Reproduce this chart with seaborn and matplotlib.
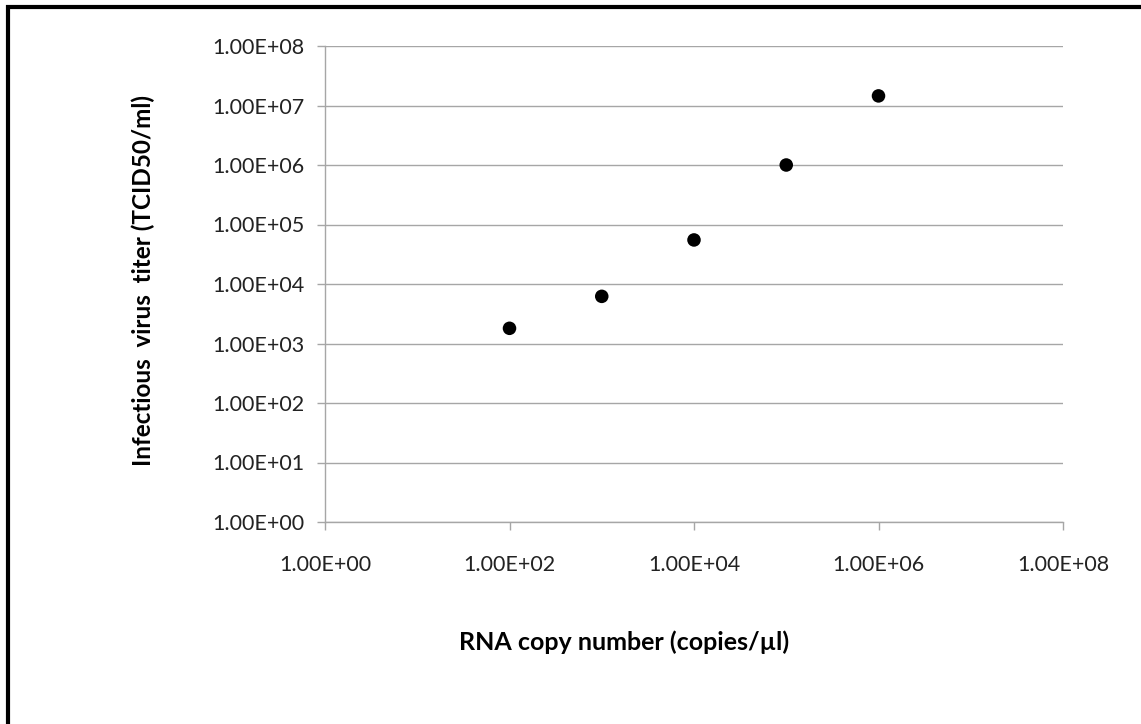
import matplotlib
matplotlib.use("Agg")
import matplotlib.pyplot as plt
import seaborn as sns
import pandas as pd
from matplotlib.lines import Line2D
from matplotlib.ticker import FixedLocator, FixedFormatter, NullLocator

rna_copies = [1e2, 1e3, 1e4, 1e5, 1e6]
virus_titer = [1.8e3, 6.2e3, 5.5e4, 1.0e6, 1.45e7]
x_ticks = [1e0, 1e2, 1e4, 1e6, 1e8]
x_tick_labels = ["1.00E+00", "1.00E+02", "1.00E+04", "1.00E+06", "1.00E+08"]
y_ticks = [1e0, 1e1, 1e2, 1e3, 1e4, 1e5, 1e6, 1e7, 1e8]
y_tick_labels = ["1.00E+00", "1.00E+01", "1.00E+02", "1.00E+03", "1.00E+04",
                 "1.00E+05", "1.00E+06", "1.00E+07", "1.00E+08"]

sns.set_style("white")
plt.rcParams['font.family'] = ['Lato', 'DejaVu Sans']

df = pd.DataFrame({"x": rna_copies, "y": virus_titer})

W, H = 1141, 724
fig = plt.figure(figsize=(W/100, H/100), dpi=100)
ax = fig.add_axes([325/W, 1-522/H, (1063-325)/W, (522-46)/H])

ax.set_xscale("log")
ax.set_yscale("log")
sns.scatterplot(data=df, x="x", y="y", ax=ax, color="black", s=95,
                edgecolor="none", zorder=5)
ax.set_xlim(1e0, 1e8)
ax.set_ylim(1e0, 1e8)

grid_c = "#a6a6a6"
ax.yaxis.set_major_locator(FixedLocator(y_ticks))
ax.yaxis.set_major_formatter(FixedFormatter(y_tick_labels))
ax.yaxis.set_minor_locator(NullLocator())
ax.xaxis.set_major_locator(FixedLocator(x_ticks))
ax.xaxis.set_major_formatter(FixedFormatter(x_tick_labels))
ax.xaxis.set_minor_locator(NullLocator())

ax.grid(axis="y", color=grid_c, linewidth=1.0)
ax.grid(axis="x", visible=False)
for side in ["top", "right"]:
    ax.spines[side].set_visible(False)
for side in ["left", "bottom"]:
    ax.spines[side].set_color(grid_c)
    ax.spines[side].set_linewidth(1.0)

ax.tick_params(axis="both", which="major", direction="out", length=6,
               width=1.0, color=grid_c, labelsize=15.5, labelcolor="#222222",
               left=True, bottom=True)
ax.tick_params(axis="y", pad=9)
ax.tick_params(axis="x", pad=18)
ax.set_xlabel("")
ax.set_ylabel("")

fig.text(624/W, 1-642/H, "RNA copy number (copies/\u00b5l)", ha="center",
         va="center", fontsize=18, fontweight="bold", color="black")
fig.text(143/W, 1-281/H, "Infectious  virus  titer (TCID50/ml)", ha="center",
         va="center", rotation=90, fontsize=17.5, fontweight="bold", color="black")

# frame lines (top and left only, as cropped in reference)
fig.add_artist(Line2D([6/W, 1.0], [1-7/H, 1-7/H], transform=fig.transFigure,
                      color="black", linewidth=3.0, solid_capstyle="butt"))
fig.add_artist(Line2D([8/W, 8/W], [0.0, 1-5/H], transform=fig.transFigure,
                      color="black", linewidth=3.0, solid_capstyle="butt"))

fig.savefig("out.png", dpi=100)
